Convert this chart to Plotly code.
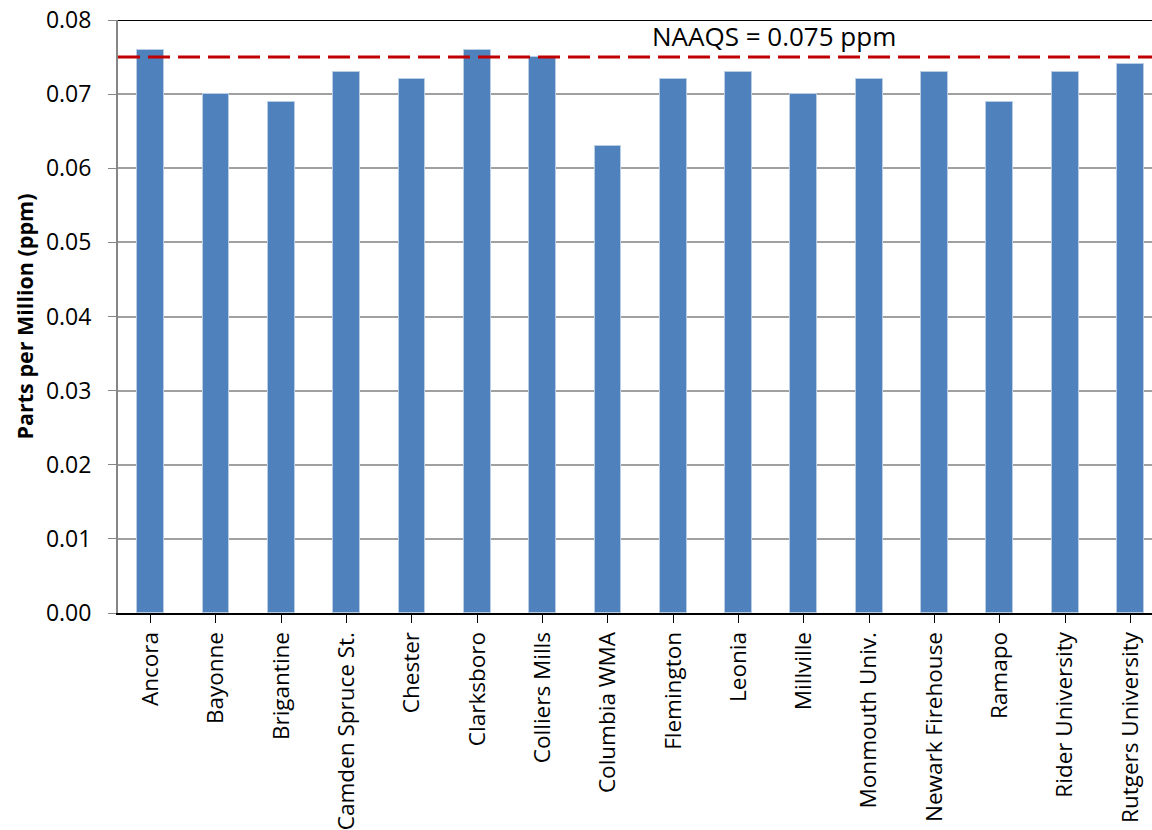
import plotly.graph_objects as go

sites = ["Ancora", "Bayonne", "Brigantine", "Camden Spruce St.", "Chester", "Clarksboro",
         "Colliers Mills", "Columbia WMA", "Flemington", "Leonia", "Millville",
         "Monmouth Univ.", "Newark Firehouse", "Ramapo", "Rider University", "Rutgers University"]
ppm = [0.076, 0.070, 0.069, 0.073, 0.072, 0.076, 0.075, 0.063, 0.072, 0.073, 0.070,
       0.072, 0.073, 0.069, 0.073, 0.074]
naaqs = 0.075
y_ticks = [0.00, 0.01, 0.02, 0.03, 0.04, 0.05, 0.06, 0.07, 0.08]
y_tick_text = ["0.00", "0.01", "0.02", "0.03", "0.04", "0.05", "0.06", "0.07", "0.08"]

font_family = "Open Sans, Liberation Sans, sans-serif"

fig = go.Figure()
fig.add_trace(go.Bar(
    x=list(range(len(sites))), y=ppm, width=0.41,
    marker=dict(color="#4F81BD", line=dict(color="#B9CDE5", width=1)),
))

fig.add_shape(type="line", xref="paper", yref="y", x0=0, x1=1, y0=naaqs, y1=naaqs,
              line=dict(color="#C00000", width=3, dash="22px,8px"))
fig.add_shape(type="line", xref="paper", yref="y", x0=0, x1=1, y0=0.08, y1=0.08,
              line=dict(color="#000000", width=2))
fig.add_annotation(x=9.55, y=0.0778, xref="x", yref="y", text="NAAQS = 0.075 ppm",
                   showarrow=False, font=dict(size=26, color="#000000", family=font_family))

fig.update_layout(
    width=1152, height=830,
    margin=dict(l=118, r=0, t=20, b=217),
    plot_bgcolor="white", paper_bgcolor="white",
    showlegend=False,
    font=dict(family=font_family, size=19, color="#000000"),
    bargap=0,
)
fig.update_xaxes(
    range=[-0.5, 15.33],
    tickmode="array", tickvals=list(range(len(sites))), ticktext=sites,
    tickangle=-90, tickson="boundaries", ticks="outside", ticklen=8, tickcolor="#000000",
    showline=True, linecolor="#000000", linewidth=2, showgrid=False,
    tickfont=dict(size=22.5),
)
fig.update_yaxes(
    range=[0, 0.08], tickmode="array", tickvals=y_ticks, ticktext=y_tick_text,
    ticks="outside", ticklen=8, tickcolor="#868686",
    showline=True, linecolor="#868686", linewidth=2,
    showgrid=True, gridcolor="#A0A0A0", gridwidth=1.5, zeroline=False,
    ticklabelstandoff=12,
    title=dict(text="<b>Parts per Million (ppm)</b>", font=dict(size=21.5), standoff=6),
    tickfont=dict(size=23),
)

fig.write_html("out.html")
